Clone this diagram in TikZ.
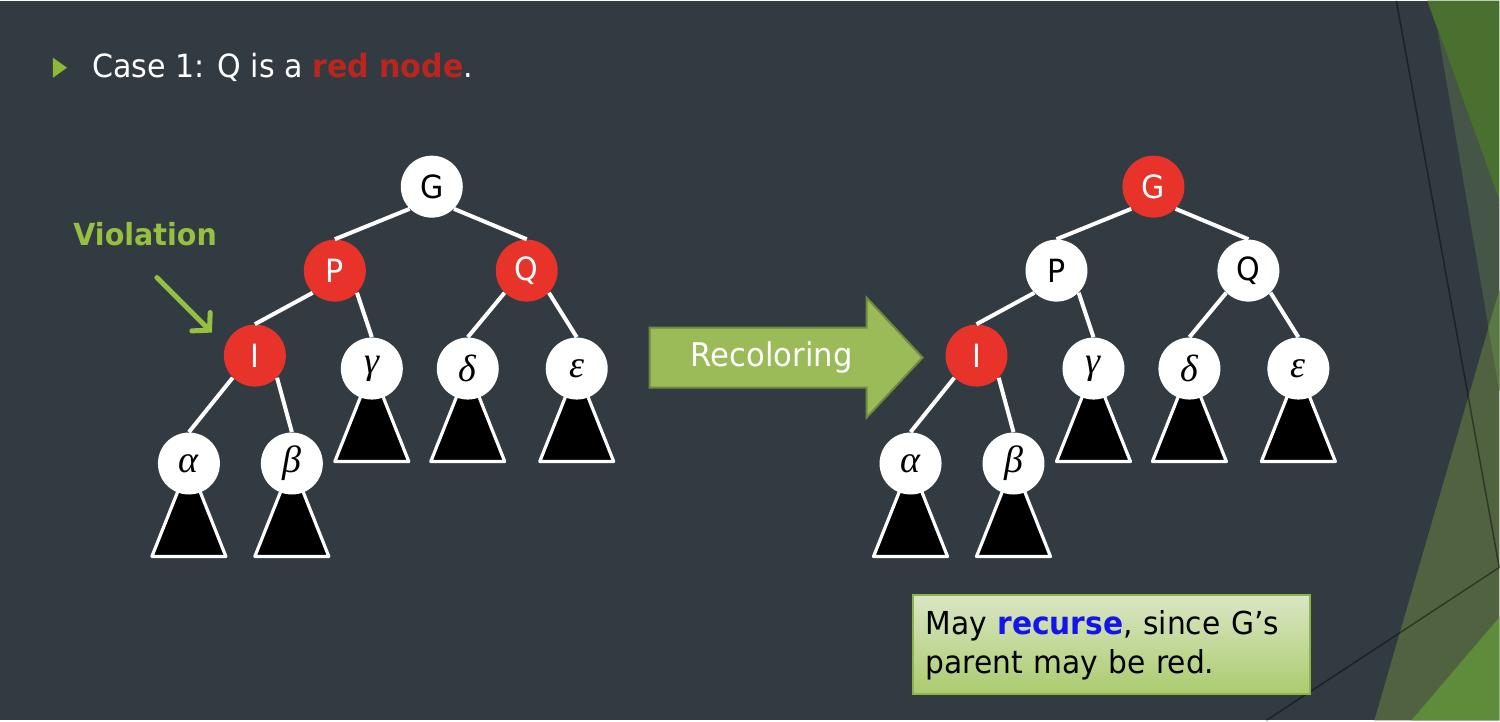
\documentclass[tikz,border=0pt]{standalone}
\usepackage{fontspec}
\setmainfont{DejaVu Sans}[FakeStretch=0.94]
\newfontfamily\keyfont{DejaVu Sans}[FakeStretch=0.94]
\newfontfamily\greekfont{Liberation Serif}
\usetikzlibrary{arrows.meta}
\pgfdeclarelayer{bg}
\pgfdeclarelayer{sub}
\pgfsetlayers{bg,sub,main}

\definecolor{slate}{HTML}{323B42}
\definecolor{nodered}{HTML}{E8332A}
\definecolor{titlered}{HTML}{BA261D}
\definecolor{leafgreen}{HTML}{8DB83A}
\definecolor{violgreen}{HTML}{95C040}
\definecolor{arrowfill}{HTML}{9BBB59}
\definecolor{arrowedge}{HTML}{71893F}
\definecolor{boxtop}{HTML}{DAE6C4}
\definecolor{boxbot}{HTML}{ABCB6E}
\definecolor{boxedge}{HTML}{8DB446}
\definecolor{recblue}{HTML}{1414EE}
\definecolor{decodark}{HTML}{4A7030}
\definecolor{decoband}{HTML}{465646}
\definecolor{decoolive}{HTML}{506240}
\definecolor{decomix}{HTML}{5A7842}
\definecolor{decobright}{HTML}{5F8C3A}

% one red-black tree; #1, #2, #3 = styles of G, P, Q
\newcommand\rbtree[3]{%
  \node[#1] (G) at (432,186) {G};
  \node[#2] (P) at (335,270) {P};
  \node[#3] (Q) at (527,270) {Q};
  \node[rednode] (I) at (255,355) {I};
  \node[greek] (c) at (372,368) {γ};
  \node[greek] (d) at (468,368) {δ};
  \node[greek] (e) at (577,368) {ε};
  \node[greek] (a) at (189,463) {α};
  \node[greek] (b) at (292,463) {β};
  \begin{pgfonlayer}{sub}
    \foreach \n in {a,b,c,d,e}
      \draw[subtree] (\n.center) -- ++(-37,93) -- ++(74,0) -- cycle;
  \end{pgfonlayer}
  % parent/child/side of the parent the link leaves from
  \foreach \u/\v/\s in {G/P/south west, G/Q/south east, P/I/south west,
                        P/c/south east, Q/d/south west, Q/e/south east,
                        I/a/south west, I/b/south east}
    \draw[edge] (\u.\s) -- (\v.north);
}

\begin{document}
\begin{tikzpicture}[x=0.5pt,y=-0.5pt,
  rbnode/.style={circle, minimum size=31pt, inner sep=0pt,
    font=\keyfont\fontsize{16}{16}\selectfont},
  blacknode/.style={rbnode, fill=white, text=black},
  rednode/.style={rbnode, fill=nodered, text=white},
  greek/.style={rbnode, fill=white, text=black,
    font=\greekfont\itshape\fontsize{19}{19}\selectfont},
  edge/.style={draw=white, line width=2pt},
  subtree/.style={fill=black, draw=white, line width=1.6pt, line join=round},
  deco/.style={draw=black, draw opacity=0.42, line width=0.75pt}]

\begin{pgfonlayer}{bg}
  \fill[slate] (0,0) rectangle (1500,720);
  % corner ornament
  \fill[decodark] (1428,0) -- (1500,0) -- (1500,200) -- cycle;
  \fill[decoband] (1438,27) -- (1500,390) -- (1500,200) -- cycle;
  \fill[decoolive] (1500,290) -- (1375,720) -- (1500,720) -- cycle;
  \fill[decomix] (1500,290) -- (1489,327) -- (1500,390) -- cycle;
  \fill[decobright] (1500,617) -- (1412,720) -- (1500,720) -- cycle;
  \draw[deco] (1397,0) -- (1500,567) -- (1267,720);
\end{pgfonlayer}

% heading
\fill[leafgreen] (53,57) -- (53,77) -- (67,67) -- cycle;
\node[anchor=base west, inner sep=0pt, text=white,
  font=\fontsize{16}{16}\selectfont] (title) at (92,77)
  {Case 1: Q is a \textcolor{titlered}{\textbf{red node}}.};

% trees before and after
\begin{scope}[name prefix=L-]
  \rbtree{blacknode}{rednode}{rednode}
\end{scope}
\begin{scope}[name prefix=R-, shift={(722,0)}]
  \rbtree{rednode}{blacknode}{blacknode}
\end{scope}

% violation marker
\node[anchor=base west, inner sep=0pt, text=violgreen,
  font=\bfseries\fontsize{15.2}{15.2}\selectfont] (viol) at (73,245) {Violation};
\coordinate (vs) at (157,277);
\coordinate (ve) at (212,332);
\draw[violgreen, line width=2.5pt, line cap=round,
  -{Straight Barb[length=6pt, width=13pt, line cap=round]}] (vs) -- (ve);

% recoloring arrow
\draw[fill=arrowfill, draw=arrowedge, line width=1pt]
  (650,327) -- (867,327) -- (867,297) -- (923,357) -- (867,417)
  -- (867,387) -- (650,387) -- cycle;
\node[text=white, inner sep=0pt, font=\fontsize{16.3}{16.3}\selectfont]
  (recolor) at (772,357) {Recoloring};

% note
\node[anchor=north west, draw=boxedge, line width=1pt,
  top color=boxtop, bottom color=boxbot,
  minimum width=199pt, minimum height=49.5pt, text width=186pt,
  inner xsep=6.5pt, align=left,
  font=\fontsize{15.8}{19.5}\selectfont] (note) at (912,594)
  {May \textcolor{recblue}{\textbf{recurse}}, since G’s\\parent may be red.};
\end{tikzpicture}
\end{document}
